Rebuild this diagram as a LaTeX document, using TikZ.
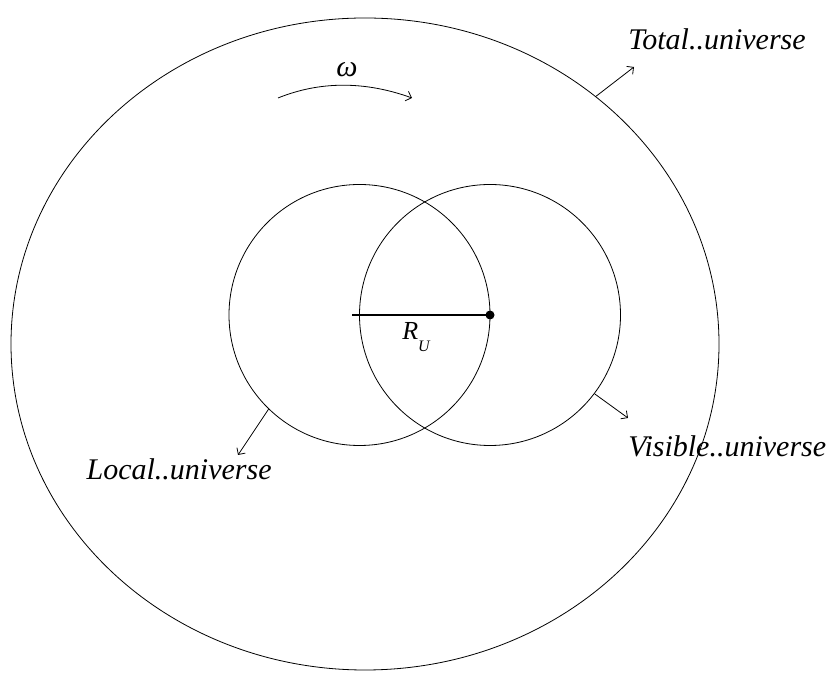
\documentclass[tikz,border=0pt]{standalone}
\usepackage{fontspec}
\setmainfont{Liberation Serif}
\newfontfamily\timesit{Liberation Serif Italic}
\usetikzlibrary{shapes.geometric,arrows.meta}
\begin{document}
\begin{tikzpicture}[
x=1pt,y=1pt,
line width=0.8pt,
>={Straight Barb[length=5pt,width=10pt]},
ring/.style={circle,draw,minimum size=261pt,inner sep=0pt},
txt/.style={inner sep=0pt,font=\fontsize{30}{32}\timesit}
]
\useasboundingbox (0,0) rectangle (830,674);
\node[ellipse,draw,minimum width=708pt,minimum height=652pt,inner sep=0pt] (total) at (365,330) {};
\node[ring] (local) at (359.5,359) {};
\node[ring] (visible) at (490,359) {};
% radius between the two centres
\coordinate (start) at (352,359);
\draw[line width=1.6pt] (start) -- (visible.center);
\draw[line width=1.6pt] ([yshift=-6pt]local.center) -- ([yshift=6pt]local.center);
\fill (visible.center) circle (4.5);
\node[txt,anchor=base,font=\fontsize{26}{28}\timesit] (ru) at (416,334) {R\raisebox{-12pt}{\fontsize{16}{16}\selectfont U}};
% rotation
\coordinate (w1) at (278,576);
\coordinate (w2) at (412,576);
\draw[->] (w1) .. controls (320,593) and (365,593) .. (w2);
\node[txt,anchor=base] (omega) at (347,597) {ω};
% names
\node[txt,anchor=base west] (totname) at (628,624) {Total..universe};
\node[txt,anchor=base west] (visname) at (628,217) {Visible..universe};
\node[txt,anchor=base east] (locname) at (272,194) {Local..universe};
\coordinate (t2) at (634,607);
\coordinate (v2) at (628,256);
\coordinate (l2) at (238,219);
\draw[->] (total.47) -- (t2);
\draw[->] (visible.-37) -- (v2);
\draw[->] (local.226) -- (l2);
\end{tikzpicture}
\end{document}
